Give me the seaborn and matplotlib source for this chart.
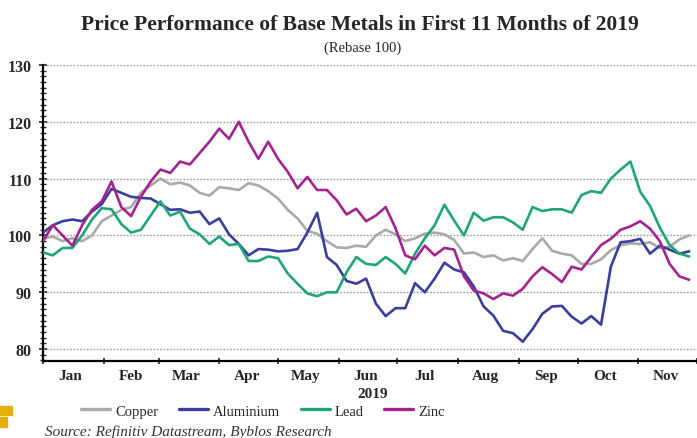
import numpy as np
import pandas as pd
import matplotlib
matplotlib.use("Agg")
import matplotlib.pyplot as plt
import matplotlib.ticker as mticker
from matplotlib.patches import Rectangle
from matplotlib.lines import Line2D
import seaborn as sns

# ---------------- data (rebased to 100, read every 5 days from 1 Jan 2019) ----------------
start_date = "2019-01-01"
n_points = 67
copper = [99.5, 99.8, 99.0, 99.5, 99.0, 100.0, 102.5, 103.5, 104.5, 105.0,
          107.5, 108.8, 110.0, 109.0, 109.3, 108.8, 107.5, 107.0, 108.5, 108.3,
          108.0, 109.2, 108.8, 107.8, 106.5, 104.5, 103.0, 100.8, 100.3, 99.0,
          97.9, 97.8, 98.2, 98.0, 100.0, 101.0, 100.2, 99.0, 99.5, 100.3,
          100.5, 100.2, 99.2, 96.8, 97.0, 96.2, 96.5, 95.6, 96.0, 95.5,
          97.6, 99.5, 97.3, 96.8, 96.5, 95.0, 95.0, 95.8, 97.4, 98.3,
          98.6, 98.5, 98.8, 97.8, 98.0, 99.3, 100.0]
aluminium = [100.5, 101.8, 102.5, 102.8, 102.5, 104.2, 105.5, 108.2, 107.5, 106.8,
             106.6, 106.5, 105.5, 104.5, 104.6, 104.0, 104.2, 102.0, 103.0, 100.2,
             98.5, 96.5, 97.6, 97.5, 97.2, 97.3, 97.6, 100.5, 104.0, 96.2,
             94.8, 92.0, 91.5, 92.4, 88.0, 85.8, 87.2, 87.2, 91.6, 90.0,
             92.4, 95.2, 94.0, 93.5, 91.0, 87.5, 85.9, 83.2, 82.8, 81.3,
             83.5, 86.2, 87.5, 87.6, 85.7, 84.5, 85.8, 84.3, 94.5, 98.8,
             99.0, 99.4, 96.8, 98.2, 97.5, 96.8, 97.2]
lead = [97.0, 96.5, 97.8, 97.8, 100.0, 102.8, 104.8, 104.6, 102.0, 100.5,
        101.0, 103.5, 106.0, 103.5, 104.2, 101.2, 100.2, 98.5, 99.8, 98.3,
        98.5, 95.5, 95.5, 96.3, 96.0, 93.3, 91.5, 89.8, 89.3, 90.0,
        90.0, 93.5, 96.2, 95.0, 94.8, 96.2, 95.0, 93.3, 96.8, 99.5,
        101.8, 105.4, 102.6, 100.0, 104.0, 102.6, 103.2, 103.2, 102.3, 101.0,
        105.0, 104.3, 104.6, 104.6, 104.0, 107.1, 107.8, 107.5, 110.0, 111.6,
        113.0, 107.7, 105.2, 101.4, 98.3, 96.8, 96.3]
zinc = [99.0, 101.8, 100.0, 98.2, 101.8, 104.5, 106.0, 109.5, 105.0, 103.4,
        106.8, 109.5, 111.6, 111.0, 113.0, 112.5, 114.5, 116.5, 118.8, 117.0,
        120.0, 116.5, 113.5, 116.5, 113.5, 111.2, 108.3, 110.3, 108.0, 108.0,
        106.2, 103.7, 104.7, 102.5, 103.5, 105.0, 101.3, 96.5, 95.8, 98.2,
        96.5, 97.8, 97.5, 92.8, 90.3, 89.8, 88.8, 89.8, 89.4, 90.6,
        92.8, 94.4, 93.2, 91.8, 94.5, 94.0, 96.2, 98.3, 99.4, 101.0,
        101.6, 102.5, 101.2, 99.0, 95.0, 92.8, 92.2]
metals = ["Copper", "Aluminium", "Lead", "Zinc"]
colors = ["#A9A9A9", "#3B3F9C", "#1FA57A", "#A3238F"]
months = ["Jan", "Feb", "Mar", "Apr", "May", "Jun", "Jul", "Aug", "Sep", "Oct", "Nov"]
y_ticks = [80, 90, 100, 110, 120, 130]
title = "Price Performance of Base Metals in First 11 Months of 2019"
subtitle = "(Rebase 100)"
year_label = "2019"
source = "Source: Refinitiv Datastream, Byblos Research"

dates = pd.date_range(start_date, periods=n_points, freq="5D")
df = pd.DataFrame({"date": dates, "Copper": copper, "Aluminium": aluminium,
                   "Lead": lead, "Zinc": zinc})
long = df.melt(id_vars="date", var_name="metal", value_name="value")

# ---------------- figure ----------------
sns.set_style("white")
plt.rcParams["font.family"] = ["Liberation Serif", "DejaVu Serif"]
fig = plt.figure(figsize=(6.97, 4.39), dpi=100)
ax = fig.add_axes([43 / 697, 1 - 362 / 439, 1 - 43 / 697, 296 / 439])

sns.lineplot(data=long, x="date", y="value", hue="metal", hue_order=metals,
             palette=dict(zip(metals, colors)), linewidth=1.9, ax=ax,
             legend=False, zorder=3)

x0 = pd.Timestamp(start_date)
ax.set_xlim(x0, x0 + pd.Timedelta(days=329))
ax.set_ylim(77.9, 130)

# grid
for v in y_ticks:
    ax.axhline(v, color="#9a9a9a", lw=1.0, ls=(0, (1.2, 1.2)), zorder=1)

ax.set_yticks(y_ticks)
ax.yaxis.set_minor_locator(mticker.MultipleLocator(1))
ax.tick_params(axis="y", which="major", direction="inout", length=6, width=1.2,
               labelsize=11.5, pad=5, left=True)
ax.tick_params(axis="y", which="minor", direction="inout", length=4, width=1.0, left=True)
for lab in ax.get_yticklabels():
    lab.set_fontweight("bold")

month_starts = pd.date_range(start_date, periods=12, freq="MS")
ax.set_xticks(month_starts)
ax.set_xticklabels([])
mids = [d + pd.Timedelta(days=14) for d in month_starts[:11]]
ax.set_xticks(mids, minor=True)
ax.set_xticklabels(months, minor=True, fontweight="bold", fontsize=11)
ax.tick_params(axis="x", which="major", direction="inout", length=4, width=1.2, bottom=True)
ax.tick_params(axis="x", which="minor", length=0, pad=6)

ax.set_xlabel("")
ax.set_ylabel("")
for s in ["top", "right"]:
    ax.spines[s].set_visible(False)
for s in ["left", "bottom"]:
    ax.spines[s].set_color("black")
    ax.spines[s].set_linewidth(1.6)
ax.set_facecolor("white")

# texts
fig.text(360 / 697, 1 - 25 / 439, title, ha="center", va="center",
         fontsize=15.5, fontweight="bold")
fig.text(363 / 697, 1 - 48 / 439, subtitle, ha="center", va="center", fontsize=10.5)
fig.text(373 / 697, 1 - 395 / 439, year_label, ha="center", va="center",
         fontsize=11, fontweight="bold")
fig.text(45 / 697, 1 - 432 / 439, source, ha="left", va="center",
         fontsize=11, style="italic", color="#333333")

# legend
handles = [Line2D([], [], color=c, lw=2.4) for c in colors]
fig.legend(handles, metals, loc="center", bbox_to_anchor=(263 / 697, 1 - 412 / 439),
           ncol=4, frameon=False, fontsize=10.5, handlelength=2.0,
           handletextpad=0.35, columnspacing=1.4)

# decorative boxes
fig.patches.append(Rectangle((0, 1 - 416 / 439), 12 / 697, 9 / 439,
                             transform=fig.transFigure, color="#E3B10E", zorder=0))
fig.patches.append(Rectangle((0, 1 - 428 / 439), 7 / 697, 10 / 439,
                             transform=fig.transFigure, color="#E3B10E", zorder=0))

fig.savefig("out.png", dpi=100, facecolor="white")
